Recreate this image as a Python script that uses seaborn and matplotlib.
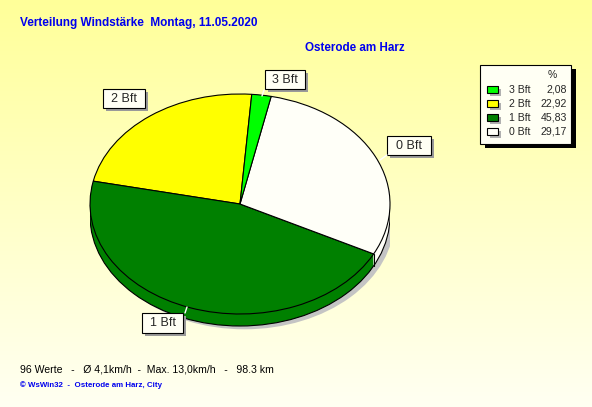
import numpy as np
import matplotlib
matplotlib.use("Agg")
import matplotlib.pyplot as plt
import seaborn as sns
from matplotlib.patches import Rectangle, Ellipse

# wind force distribution (percent)
labels = ['3 Bft', '2 Bft', '1 Bft', '0 Bft']
percent = [2.08, 22.92, 45.83, 29.17]
colors = ['#00ff00', '#ffff00', '#008000', '#fffff8']

# pie order (counter clockwise from start angle) as in the reference
pie_order = [1, 2, 3, 0]

title = 'Verteilung Windstärke  Montag, 11.05.2020'
station = 'Osterode am Harz'
footer = '96 Werte   -   Ø 4,1km/h  -  Max. 13,0km/h   -   98.3 km'
credit = '© WsWin32  -  Osterode am Harz, City'

sns.set_style("white")
plt.rcParams['font.family'] = ['Liberation Sans', 'DejaVu Sans']

W, H = 592, 407
fig = plt.figure(figsize=(5.92, 4.07), dpi=100)

# background gradient yellow -> near white
bg = fig.add_axes([0, 0, 1, 1])
t = np.linspace(0, 1, H)[:, None, None]
top = np.array([1.0, 1.0, 0.60])
bot = np.array([1.0, 1.0, 0.95])
grad = top * (1 - t) + bot * t
grad = np.repeat(grad, 2, axis=1)
bg.imshow(grad, extent=[0, W, H, 0], aspect='auto')
bg.set_xlim(0, W)
bg.set_ylim(H, 0)
bg.set_axis_off()

# pie axes (ellipse 300 x 220 px, depth 12 px)
depth = 12 / 110
pa = fig.add_axes([90 / W, 1 - 347 / H, 300 / W, 253 / H])
pa.patch.set_alpha(0)
vals = [percent[i] for i in pie_order]
cols = [colors[i] for i in pie_order]
start = 85.5

# shadow
pa.add_patch(Ellipse((0.03, -depth - 0.03), 2.0, 2.0, fc='#c4c4c4', ec='none', zorder=0))
# side of the cake
for off in np.linspace(-depth, 0, 14):
    w, _ = pa.pie(vals, colors=cols, startangle=start, center=(0, off),
                  wedgeprops=dict(linewidth=0))
    for p in w:
        p.set_zorder(1)
pa.add_patch(Ellipse((0, -depth), 2.0, 2.0, fc='none', ec='black', lw=0.8, zorder=2))
pa.plot([-1, -1], [0, -depth], color='black', lw=0.8, zorder=2)
pa.plot([1, 1], [0, -depth], color='black', lw=0.8, zorder=2)
ang = start + np.cumsum([0] + vals) / 100 * 360
for a in ang:
    x, y = np.cos(np.radians(a)), np.sin(np.radians(a))
    if y < 0:
        pa.plot([x, x], [y, y - depth], color='black', lw=0.8, zorder=2)
# top face
w, _ = pa.pie(vals, colors=cols, startangle=start,
              wedgeprops=dict(linewidth=0.8, edgecolor='black'))
for p in w:
    p.set_zorder(3)
pa.set_aspect('auto')
pa.set_xlim(-1, 1)
pa.set_ylim(-1.3, 1.0)
pa.set_axis_off()

# overlay in pixel coordinates
ov = fig.add_axes([0, 0, 1, 1])
ov.patch.set_alpha(0)
ov.set_xlim(0, W)
ov.set_ylim(H, 0)
ov.set_axis_off()

blue = '#0000ee'
ov.text(20, 23, title, color=blue, fontsize=8.5, fontweight='bold', va='center')
ov.text(305, 48, station, color=blue, fontsize=8.4, fontweight='bold', va='center')
ov.text(20, 369, footer, color='black', fontsize=7.6, va='center')
ov.text(20, 385, credit, color=blue, fontsize=5.7, fontweight='bold', va='center')

# slice labels: box (x0, y0, w, h), connector line
label_boxes = {
    '3 Bft': ((265, 70, 40, 19), [(264, 90), (262, 96)]),
    '2 Bft': ((103, 89, 42, 19), None),
    '0 Bft': ((387, 136, 44, 19), [(387, 155), (380, 160)]),
    '1 Bft': ((142, 313, 41, 20), [(187, 307), (185, 313)]),
}
for lab, ((x0, y0, bw, bh), line) in label_boxes.items():
    if line:
        ov.plot([line[0][0], line[1][0]], [line[0][1], line[1][1]], color='white', lw=1)
    ov.add_patch(Rectangle((x0 + 3, y0 + 3), bw, bh, fc='#9a9a9a', ec='none'))
    ov.add_patch(Rectangle((x0, y0), bw, bh, fc='#fffff4', ec='black', lw=0.8))
    ov.text(x0 + bw / 2, y0 + bh / 2 + 0.5, lab, fontsize=9, ha='center', va='center')

# legend box
lx0, ly0, lw_, lh = 480, 65, 91, 79
ov.add_patch(Rectangle((lx0 + 5, ly0 + 4), lw_, lh, fc='black', ec='none'))
ov.add_patch(Rectangle((lx0, ly0), lw_, lh, fc='#fffff4', ec='black', lw=0.8))
ov.text(552, 75, '%', fontsize=7.5, ha='center', va='center')
row_y = [90, 104, 118, 132]
for yy, lab, val, c in zip(row_y, labels, percent, colors):
    ov.add_patch(Rectangle((490, yy - 1), 11, 7, fc='#b0b0b0', ec='none'))
    ov.add_patch(Rectangle((487, yy - 4), 11, 7, fc=c, ec='black', lw=0.8))
    ov.text(509, yy, lab, fontsize=7.6, va='center')
    ov.text(567, yy, f'{val:.2f}'.replace('.', ','), fontsize=7.6, ha='right', va='center')

fig.savefig('out.png', dpi=100)
